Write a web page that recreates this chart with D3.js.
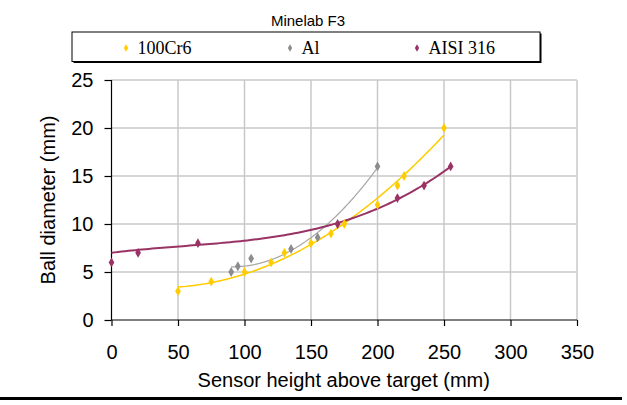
<!DOCTYPE html>
<html>
<head>
<meta charset="utf-8">
<script src="https://cdn.jsdelivr.net/npm/d3@7"></script>
<style>
  html, body { margin: 0; padding: 0; background: #fff; }
  svg { display: block; }
</style>
</head>
<body>
<svg id="chart" width="627" height="405"></svg>
<script>
// Detection distance of three ball materials (Minelab F3)
const seriesNames = ["100Cr6", "Al", "AISI 316"];
const seriesColors = ["#FFCC00", "#8C8C8C", "#993366"];
const trendColors = ["#FFCC00", "#A6A6A6", "#993366"];
const trendOrders = [2, 2, 3];
// fixed trend intercepts (null = fitted freely)
const trendIntercepts = [null, null, 7];

const heights100Cr6 = [50, 75, 100, 120, 130, 150, 165, 175, 200, 215, 220, 250];
const diam100Cr6    = [3, 4, 5, 6, 7, 8, 9, 10, 12, 14, 15, 20];

const heightsAl = [90, 95, 105, 135, 155, 200];
const diamAl    = [5, 5.6, 6.4, 7.4, 8.6, 16];

const heightsAISI = [0, 20, 65, 170, 215, 235, 255];
const diamAISI    = [6, 7, 8, 10, 12.7, 14, 16];

const xTicks = [0, 50, 100, 150, 200, 250, 300, 350];
const yTicks = [0, 5, 10, 15, 20, 25];

const seriesX = [heights100Cr6, heightsAl, heightsAISI];
const seriesY = [diam100Cr6, diamAl, diamAISI];

const svg = d3.select("#chart");
const plot = { left: 111.5, right: 577, top: 80, bottom: 320 };

const x = d3.scaleLinear().domain([0, 350]).range([plot.left, plot.right]);
const y = d3.scaleLinear().domain([0, 25]).range([plot.bottom, plot.top]);

// Least-squares polynomial fit; with a fixed intercept only higher terms are fitted
function polyFit(xs, ys, order, intercept) {
  const s = 100; // scale x for numerical stability
  const fixed = intercept != null;
  const powers = d3.range(fixed ? 1 : 0, order + 1);
  const n = powers.length;
  const A = Array.from({ length: n }, () => new Array(n + 1).fill(0));
  xs.forEach((xv0, k) => {
    const xv = xv0 / s;
    const yv = ys[k] - (fixed ? intercept : 0);
    for (let i = 0; i < n; i++) {
      for (let j = 0; j < n; j++) A[i][j] += Math.pow(xv, powers[i] + powers[j]);
      A[i][n] += yv * Math.pow(xv, powers[i]);
    }
  });
  for (let c = 0; c < n; c++) {
    let p = c;
    for (let r = c + 1; r < n; r++) if (Math.abs(A[r][c]) > Math.abs(A[p][c])) p = r;
    [A[c], A[p]] = [A[p], A[c]];
    for (let r = 0; r < n; r++) {
      if (r === c) continue;
      const f = A[r][c] / A[c][c];
      for (let k = c; k <= n; k++) A[r][k] -= f * A[c][k];
    }
  }
  const coef = A.map((row, i) => row[n] / row[i]);
  return xv => (fixed ? intercept : 0) +
    coef.reduce((acc, cf, i) => acc + cf * Math.pow(xv / s, powers[i]), 0);
}

// Gridlines
svg.append("g").selectAll("line")
  .data(xTicks.filter(t => t > 0))
  .join("line")
  .attr("x1", d => x(d)).attr("x2", d => x(d))
  .attr("y1", plot.top).attr("y2", plot.bottom)
  .attr("stroke", "#C8C8C8").attr("stroke-width", 1.5);
svg.append("g").selectAll("line")
  .data(yTicks.filter(t => t > 0))
  .join("line")
  .attr("x1", plot.left).attr("x2", plot.right)
  .attr("y1", d => y(d)).attr("y2", d => y(d))
  .attr("stroke", "#C8C8C8").attr("stroke-width", 1.5);

// Axes
const xAxis = d3.axisBottom(x).tickValues(xTicks).tickSize(6).tickPadding(19);
const yAxis = d3.axisLeft(y).tickValues(yTicks).tickSize(7).tickPadding(11);

const gx = svg.append("g").attr("transform", `translate(0,${plot.bottom})`).call(xAxis);
const gy = svg.append("g").attr("transform", `translate(${plot.left},0)`).call(yAxis);
[gx, gy].forEach(g => {
  g.select(".domain").attr("stroke", "#000").attr("stroke-width", 1.2);
  g.selectAll(".tick line").attr("stroke", "#000").attr("stroke-width", 1.2);
  g.selectAll(".tick text")
    .attr("font-family", "Liberation Sans, Arial, sans-serif")
    .attr("font-size", 20).attr("fill", "#000");
});
gx.select(".domain").attr("d", `M${plot.left},0H${plot.right}`);
gy.select(".domain").attr("d", `M0,${plot.bottom}V${plot.top}`);

// Trend curves, drawn across each series' height range
const line = d3.line().x(d => x(d[0])).y(d => y(d[1]));
seriesNames.forEach((name, i) => {
  const f = polyFit(seriesX[i], seriesY[i], trendOrders[i], trendIntercepts[i]);
  const [x0, x1] = d3.extent(seriesX[i]);
  const pts = d3.range(0, 101).map(k => {
    const xv = x0 + (x1 - x0) * k / 100;
    return [xv, f(xv)];
  });
  svg.append("path").datum(pts)
    .attr("d", line)
    .attr("fill", "none")
    .attr("stroke", trendColors[i])
    .attr("stroke-width", i === 1 ? 1.2 : (i === 2 ? 2 : 1.5));
});

// Markers
const diamond = d3.symbol().type(d3.symbolDiamond).size(28);
seriesNames.forEach((name, i) => {
  svg.append("g").selectAll("path")
    .data(seriesX[i].map((xv, k) => [xv, seriesY[i][k]]))
    .join("path")
    .attr("d", diamond)
    .attr("transform", d => `translate(${x(d[0])},${y(d[1])})`)
    .attr("fill", seriesColors[i]);
});

// Title
svg.append("text")
  .attr("x", 308).attr("y", 26)
  .attr("text-anchor", "middle")
  .attr("font-family", "Liberation Sans, Arial, sans-serif")
  .attr("font-size", 15)
  .text("Minelab F3");

// Legend
const legend = svg.append("g");
legend.append("rect")
  .attr("x", 73.5).attr("y", 33.5).attr("width", 468).attr("height", 29.5)
  .attr("fill", "#000");
legend.append("rect")
  .attr("x", 72).attr("y", 32).attr("width", 468).attr("height", 29.5)
  .attr("fill", "#fff").attr("stroke", "#000").attr("stroke-width", 1);
const legendX = [126, 290, 417];
seriesNames.forEach((name, i) => {
  legend.append("path")
    .attr("d", d3.symbol().type(d3.symbolDiamond).size(16))
    .attr("transform", `translate(${legendX[i]},48)`)
    .attr("fill", seriesColors[i]);
  legend.append("text")
    .attr("x", legendX[i] + 11.5).attr("y", 54)
    .attr("font-family", "Liberation Serif, Times New Roman, serif")
    .attr("font-size", 18)
    .text(name);
});

// Axis titles
svg.append("text")
  .attr("x", (plot.left + plot.right) / 2 - 0.5).attr("y", 387)
  .attr("text-anchor", "middle")
  .attr("font-family", "Liberation Sans, Arial, sans-serif")
  .attr("font-size", 20)
  .text("Sensor height above target (mm)");
svg.append("text")
  .attr("transform", `translate(55,${(plot.top + plot.bottom) / 2}) rotate(-90)`)
  .attr("text-anchor", "middle")
  .attr("font-family", "Liberation Sans, Arial, sans-serif")
  .attr("font-size", 20)
  .text("Ball diameter (mm)");

// Bottom rule
svg.append("rect")
  .attr("x", 0).attr("y", 397).attr("width", 622).attr("height", 3)
  .attr("fill", "#000");
</script>
</body>
</html>
